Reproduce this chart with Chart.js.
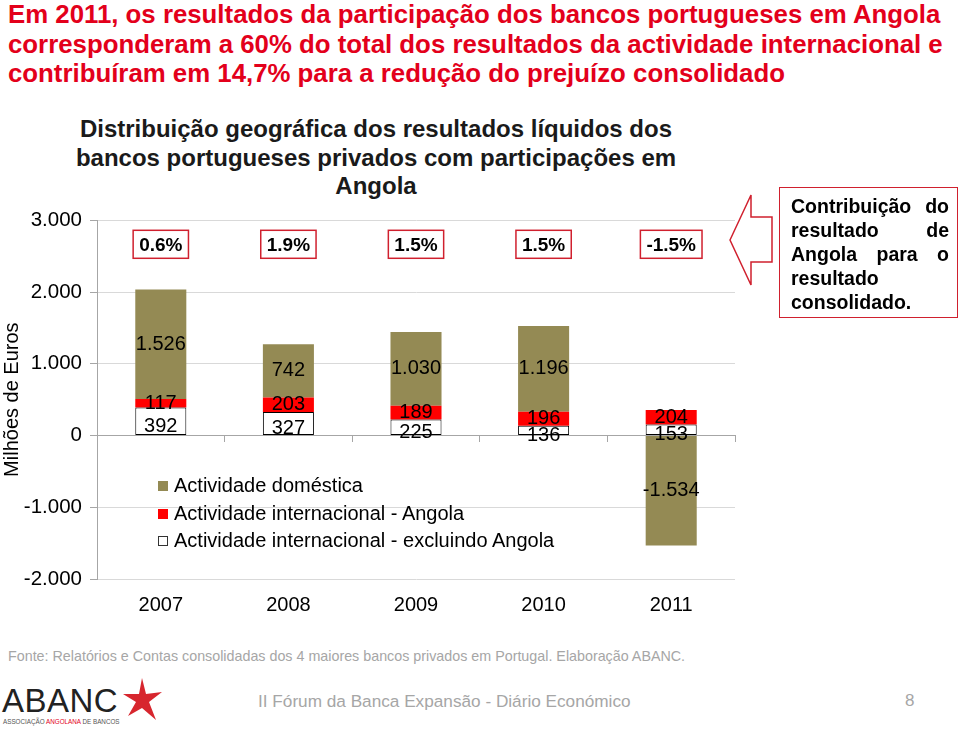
<!DOCTYPE html>
<html>
<head>
<meta charset="utf-8">
<script src="https://cdn.jsdelivr.net/npm/chart.js@4.4.0/dist/chart.umd.min.js"></script>
<style>
  html, body { margin: 0; padding: 0; background: #fff; }
  body { width: 960px; height: 731px; position: relative; overflow: hidden; font-family: 'Liberation Sans', Arial, sans-serif; }
  #heading { position: absolute; left: 8px; top: 0px; width: 955px; color: #e3001b; font-weight: bold; font-size: 25.8px; line-height: 29.5px; white-space: nowrap; }
  #chartTitle { position: absolute; left: 0; top: 115px; width: 752px; text-align: center; color: #1a1a1a; font-weight: bold; font-size: 24px; line-height: 28.5px; white-space: nowrap; }
  #wrap { position: absolute; left: 0; top: 200px; width: 752px; height: 431px; }
  #legend { position: absolute; left: 158px; top: 472px; font-size: 20px; color: #000; }
  #legend .row { height: 27.5px; line-height: 27.5px; white-space: nowrap; }
  #legend .box { display: inline-block; width: 10px; height: 10px; margin-right: 6px; vertical-align: 1px; box-sizing: border-box; }
  #note { position: absolute; left: 779px; top: 187px; width: 179px; height: 131px; box-sizing: border-box; border: 1.5px solid #d0202e; padding: 6px 8px 0 11px; font-weight: bold; font-size: 19.5px; line-height: 24px; text-align: justify; color: #000; }
  #arrow { position: absolute; left: 725px; top: 190px; }
  #source { position: absolute; left: 8px; top: 648px; font-size: 14.3px; color: #a6a6a6; white-space: nowrap; }
  #event { position: absolute; left: 258px; top: 691px; font-size: 17.2px; color: #a6a6a6; white-space: nowrap; }
  #page { position: absolute; left: 905px; top: 691px; font-size: 17px; color: #a6a6a6; }
  #logo { position: absolute; left: 2px; top: 676px; width: 170px; height: 55px; }
  #logo .name { position: absolute; left: 0; top: 6px; font-size: 33px; letter-spacing: 0.5px; color: #222; }
  #logo .sub { position: absolute; left: 1px; top: 42px; font-size: 6.3px; color: #555; white-space: nowrap; }
  #logo .sub span { color: #e3001b; }
  #logo svg { position: absolute; left: 118px; top: 0; }
</style>
</head>
<body>
<div id="heading">Em 2011, os resultados da participação dos bancos portugueses em Angola<br>corresponderam a 60% do total dos resultados da actividade internacional e<br>contribuíram em 14,7% para a redução do prejuízo consolidado</div>
<div id="chartTitle">Distribuição geográfica dos resultados líquidos dos<br>bancos portugueses privados com participações em<br>Angola</div>
<div id="wrap"><canvas id="myChart1"></canvas></div>
<div id="legend"></div>
<svg id="arrow" width="52" height="100">
  <polygon points="5,50 26,5 26,27 47,27 47,72 26,72 26,95" fill="#fff" stroke="#d0202e" stroke-width="1.5"/>
</svg>
<div id="note">Contribuição do resultado de Angola para o resultado consolidado.</div>
<div id="source">Fonte: Relatórios e Contas consolidadas dos 4 maiores bancos privados em Portugal. Elaboração ABANC.</div>
<div id="logo">
  <div class="name">ABANC</div>
  <div class="sub">ASSOCIAÇÃO <span>ANGOLANA</span> DE BANCOS</div>
  <svg width="45" height="50"><polygon points="22,2 26,18 42,16 29,26 36,44 22,32 8,40 16,26 3,18 19,18" fill="#d7262e"/></svg>
</div>
<div id="event">II Fórum da Banca Expansão - Diário Económico</div>
<div id="page">8</div>
<script>
const years = ['2007', '2008', '2009', '2010', '2011'];
const intlExclAngola = [392, 327, 225, 136, 153];   // Actividade internacional - excluindo Angola
const intlAngola = [117, 203, 189, 196, 204];       // Actividade internacional - Angola
const domestic = [1526, 742, 1030, 1196, -1534];    // Actividade doméstica
const angolaShare = ['0.6%', '1.9%', '1.5%', '1.5%', '-1.5%'];
const yMin = -2000, yMax = 3000, yStep = 1000;

function fmt(v) {
    const s = Math.abs(v).toString().replace(/\B(?=(\d{3})+(?!\d))/g, '.');
    return (v < 0 ? '-' : '') + s;
}

// rotulos dentro das barras
const barLabels = {
    id: 'barLabels',
    afterDatasetsDraw(chart) {
        const ctx = chart.ctx;
        ctx.save();
        ctx.font = '20px "Liberation Sans", Arial, sans-serif';
        ctx.fillStyle = '#000';
        ctx.textAlign = 'center';
        ctx.textBaseline = 'middle';
        chart.data.datasets.forEach((ds, di) => {
            const meta = chart.getDatasetMeta(di);
            meta.data.forEach((bar, i) => {
                const off = ds.labelShift || 0;
                ctx.fillText(fmt(ds.data[i]), bar.x, (bar.y + bar.base) / 2 + off);
            });
        });
        ctx.restore();
    }
};

// caixas com a contribuicao de Angola
const shareBoxes = {
    id: 'shareBoxes',
    afterDatasetsDraw(chart) {
        const ctx = chart.ctx;
        const xs = chart.scales.x;
        const y = chart.chartArea.top + 24;
        ctx.save();
        ctx.font = 'bold 19px "Liberation Sans", Arial, sans-serif';
        ctx.textAlign = 'center';
        ctx.textBaseline = 'middle';
        angolaShare.forEach((t, i) => {
            const x = xs.getPixelForValue(i);
            const w = ctx.measureText(t).width + 12;
            ctx.fillStyle = '#fff';
            ctx.fillRect(x - w / 2, y - 14, w, 28);
            ctx.strokeStyle = '#d0202e';
            ctx.lineWidth = 1.5;
            ctx.strokeRect(x - w / 2, y - 14, w, 28);
            ctx.fillStyle = '#000';
            ctx.fillText(t, x, y + 1);
        });
        ctx.restore();
    }
};

let myChart1;
document.addEventListener('DOMContentLoaded', function() {
    const ctx = document.getElementById('myChart1').getContext('2d');
    myChart1 = new Chart(ctx, {
        type: 'bar',
        data: {
            labels: years,
            datasets: [
                {
                    label: 'Actividade internacional - excluindo Angola',
                    data: intlExclAngola,
                    backgroundColor: '#ffffff',
                    borderColor: '#000000',
                    borderWidth: 1,
                    borderSkipped: false,
                    labelShift: 5,
                },
                {
                    label: 'Actividade internacional - Angola',
                    data: intlAngola,
                    backgroundColor: '#ff0000',
                    borderWidth: 0,
                },
                {
                    label: 'Actividade doméstica',
                    data: domestic,
                    backgroundColor: '#948a54',
                    borderWidth: 0,
                }
            ]
        },
        options: {
            responsive: true,
            maintainAspectRatio: false,
            animation: false,
            categoryPercentage: 0.8,
            barPercentage: 0.5,
            layout: { padding: { top: 18, right: 17, bottom: 0, left: 0 } },
            scales: {
                x: {
                    stacked: true,
                    position: { y: 0 },
                    grid: { display: true, drawOnChartArea: false, drawTicks: true, tickLength: 6, color: '#a6a6a6' },
                    border: { display: true, color: '#a6a6a6' },
                    ticks: { display: false }
                },
                x2: {
                    type: 'category',
                    labels: years,
                    position: 'bottom',
                    offset: true,
                    grid: { display: false, drawTicks: false },
                    border: { display: false },
                    ticks: { color: '#000', padding: 14, font: { size: 20, family: '"Liberation Sans", Arial, sans-serif' } }
                },
                y: {
                    stacked: true,
                    min: yMin,
                    max: yMax,
                    ticks: {
                        stepSize: yStep,
                        color: '#000',
                        padding: 8,
                        font: { size: 20.5, family: '"Liberation Sans", Arial, sans-serif' },
                        callback: v => fmt(v)
                    },
                    grid: { color: '#d9d9d9', tickColor: '#a6a6a6', tickLength: 7 },
                    border: { display: true, color: '#a6a6a6' },
                    title: {
                        display: true,
                        text: 'Milhões de Euros',
                        color: '#000',
                        padding: { top: 0, bottom: 0 },
                        font: { size: 20, family: '"Liberation Sans", Arial, sans-serif' }
                    },
                    afterFit: scale => { scale.width = 97; }
                }
            },
            plugins: {
                legend: { display: false },
                tooltip: { enabled: false }
            }
        },
        plugins: [barLabels, shareBoxes]
    });

    // legenda em html, ordem invertida como no original
    const legend = document.getElementById('legend');
    myChart1.data.datasets.slice().reverse().forEach(ds => {
        const row = document.createElement('div');
        row.className = 'row';
        const box = document.createElement('span');
        box.className = 'box';
        box.style.background = ds.backgroundColor;
        box.style.border = ds.borderWidth ? '1px solid #333' : 'none';
        row.appendChild(box);
        row.appendChild(document.createTextNode(ds.label));
        legend.appendChild(row);
    });
});
</script>
</body>
</html>
